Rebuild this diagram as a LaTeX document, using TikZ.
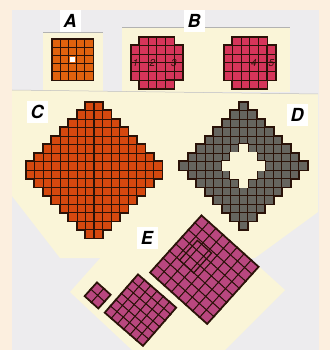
\documentclass[tikz,border=0pt]{standalone}
\usepackage{fontspec}
\setmainfont{TeX Gyre Heros}
\definecolor{peach}{HTML}{FCEFDF}
\definecolor{panel}{HTML}{EDECEE}
\definecolor{cream}{HTML}{FAF5D8}
\definecolor{orangeA}{HTML}{E0620E}
\definecolor{pinkB}{HTML}{D5355A}
\definecolor{redC}{HTML}{D5480F}
\definecolor{grayD}{HTML}{66655F}
\definecolor{magE}{HTML}{B9477F}
\definecolor{ink}{HTML}{2A1208}
\tikzset{
  label box/.style={fill=white, inner sep=2pt, minimum width=21pt, minimum height=22pt,
    font=\fontsize{18}{18}\selectfont\bfseries\itshape},
  digit/.style={font=\fontsize{10}{10}\selectfont\itshape, text=ink, inner sep=0pt},
}
\newcommand{\cellout}[3]{\draw[ink, line width=2.6pt] ({#1},{#2}) rectangle ++({#3},{#3});}
\newcommand{\cellin}[4]{\filldraw[fill=#4, draw=ink, line width=0.9pt] ({#1},{#2}) rectangle ++({#3},{#3});}
\begin{document}
\begin{tikzpicture}[x=1pt, y=-1pt]
\useasboundingbox (0,0) rectangle (330,350);
\fill[peach] (0,0) rectangle (330,350);
\fill[panel] (12,10) rectangle (319,350);
% cards
\fill[cream] (43,32) rectangle (103,92);
\fill[cream] (122,27) rectangle (290,92);
\fill[cream] (12,90) -- (318,94) -- (318,212) -- (255,258) -- (60,258) -- (12,196) -- cycle;
\fill[cream] (167,183) -- (285,290) -- (180,395) -- (70,292) -- cycle;
\draw[gray!60, line width=0.5pt] (43,32) -- (103,32);
\draw[gray!60, line width=0.5pt] (122,27) -- (290,27);
\draw[gray!50, line width=0.5pt] (12,90) -- (318,94);
% ---------- A ----------
\begin{scope}[shift={(52,39)}]
 \foreach \i in {0,...,4}{\foreach \j in {0,...,4}{\cellout{\i*8.2}{\j*8.2}{8.2}}}
 \foreach \i in {0,...,4}{\foreach \j in {0,...,4}{\cellin{\i*8.2}{\j*8.2}{8.2}{orangeA}}}
 \fill[white] (2*8.2+1.2,2*8.2+1.2) rectangle ++(5.8,5.8);
\end{scope}
% ---------- B ----------
\foreach \ox in {131,224}{
\begin{scope}[shift={(\ox,37)}]
 \foreach \i in {1,...,4}{\foreach \j in {0,...,5}{\cellout{\i*8.6}{\j*8.6}{8.6}}}
 \foreach \i in {0,5}{\foreach \j in {1,...,4}{\cellout{\i*8.6}{\j*8.6}{8.6}}}
 \foreach \i in {1,...,4}{\foreach \j in {0,...,5}{\cellin{\i*8.6}{\j*8.6}{8.6}{pinkB}}}
 \foreach \i in {0,5}{\foreach \j in {1,...,4}{\cellin{\i*8.6}{\j*8.6}{8.6}{pinkB}}}
\end{scope}}
\begin{scope}[shift={(131,37)}]
 \draw[ink, line width=1.4pt] (8.6,8.6) -- (8.6,43);
 \draw[ink, line width=1.4pt] (34.4,8.6) rectangle (51.6,43);
 \node[digit] (b1) at (4.3,26) {1};
 \node[digit] (b2) at (21.5,26) {2};
 \node[digit] (b3) at (43,26) {3};
\end{scope}
\begin{scope}[shift={(224,37)}]
 \draw[ink, line width=1.4pt] (43,8.6) -- (43,43);
 \node[digit] (b4) at (30,26) {4};
 \node[digit] (b5) at (47.3,26) {5};
\end{scope}
% ---------- C ----------
\begin{scope}[shift={(94,102)}]
 \foreach \r in {0,...,15}{
   \pgfmathtruncatemacro{\h}{min(\r,15-\r)+1}
   \foreach \i in {1,...,\h}{\cellout{-\i*8.5}{\r*8.5}{8.5}\cellout{(\i-1)*8.5}{\r*8.5}{8.5}}}
 \foreach \r in {0,...,15}{
   \pgfmathtruncatemacro{\h}{min(\r,15-\r)+1}
   \foreach \i in {1,...,\h}{\cellin{-\i*8.5}{\r*8.5}{8.5}{redC}\cellin{(\i-1)*8.5}{\r*8.5}{8.5}{redC}}}
 \draw[ink, line width=1.4pt] (0,0) -- (0,136);
\end{scope}
% ---------- D ----------
\begin{scope}[shift={(243.5,102)}]
 \foreach \r in {0,...,14}{
   \pgfmathtruncatemacro{\h}{min(\r,14-\r)}
   \foreach \i in {-\h,...,\h}{\cellout{(\i-0.5)*8.5}{\r*8.5}{8.5}}}
 \foreach \r in {0,...,14}{
   \pgfmathtruncatemacro{\h}{min(\r,14-\r)}
   \foreach \i in {-\h,...,\h}{\cellin{(\i-0.5)*8.5}{\r*8.5}{8.5}{grayD}}}
 \foreach \r/\h in {5/0,6/1,7/2,8/1,9/0}{
   \foreach \i in {-\h,...,\h}{\cellout{(\i-0.5)*8.5}{\r*8.5}{8.5}}}
 \foreach \r/\h in {5/0,6/1,7/2,8/1,9/0}{
   \foreach \i in {-\h,...,\h}{\fill[cream] ({(\i-0.5)*8.5-0.7},{\r*8.5-0.7}) rectangle ++(9.9,9.9);}}
\end{scope}
% ---------- E ----------
\begin{scope}[shift={(97,283)}, rotate=-42]
 \foreach \i in {0,1}{\foreach \j in {0,1}{\cellout{\i*8.8}{\j*8.8}{8.8}}}
 \foreach \i in {0,1}{\foreach \j in {0,1}{\cellin{\i*8.8}{\j*8.8}{8.8}{magE}}}
\end{scope}
\begin{scope}[shift={(138,275)}, rotate=-41]
 \foreach \i in {0,...,5}{\foreach \j in {0,...,5}{\cellout{\i*8.3}{\j*8.3}{8.3}}}
 \foreach \i in {0,...,5}{\foreach \j in {0,...,5}{\cellin{\i*8.3}{\j*8.3}{8.3}{magE}}}
\end{scope}
\begin{scope}[shift={(201.5,216)}, rotate=-42]
 \foreach \i in {0,...,7}{\foreach \j in {0,...,7}{\cellout{\i*9.5}{\j*9.5}{9.5}}}
 \foreach \i in {0,...,7}{\foreach \j in {0,...,7}{\cellin{\i*9.5}{\j*9.5}{9.5}{magE}}}
 \draw[ink, line width=1.3pt] (1.4*9.5,2.2*9.5) rectangle (3.4*9.5,5*9.5);
\end{scope}
% ---------- labels ----------
\node[label box] (la) at (70,21) {A};
\node[label box] (lb) at (194,21) {B};
\node[label box] (lc) at (37,112) {C};
\node[label box] (ld) at (297,115) {D};
\node[label box] (le) at (147,238) {E};
\end{tikzpicture}
\end{document}
